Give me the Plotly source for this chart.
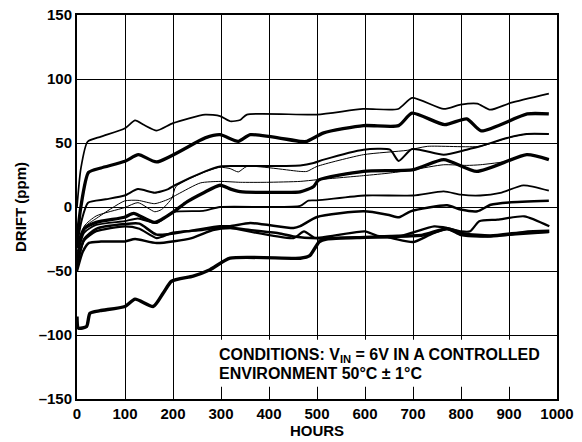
import plotly.graph_objects as go

# ---- data (hours, drift ppm) ----
A_HOURS = [0, 8, 22, 50, 100, 121, 140, 166, 200, 267, 298, 319, 340, 354, 500, 596, 669, 698, 764, 799, 834, 861, 903, 983]
A_DRIFT = [0, 30, 51, 55, 61.5, 67.7, 64, 59.7, 65.5, 72.2, 71, 67, 68, 72.2, 72.2, 76.6, 76.6, 85.2, 76.6, 80, 80.8, 76, 81.3, 88.6]

B_HOURS = [0, 8, 24, 50, 100, 128, 166, 267, 298, 336, 361, 465, 479, 514, 597, 670, 698, 766, 812, 842, 938, 983]
B_DRIFT = [-25, 0, 27, 30.5, 35.7, 40.9, 35.2, 54, 56.5, 51.3, 56.5, 51.3, 51.3, 57.9, 63.6, 63.6, 73.3, 64.3, 68.9, 59.5, 72.7, 72.7]

C_HOURS = [0, 10, 23, 60, 99, 127, 162, 190, 204, 267, 298, 340, 465, 493, 514, 597, 652, 670, 698, 764, 812, 840, 896, 937, 983]
C_DRIFT = [-30, -10, 3.4, 6, 9, 14, 11.2, 14, 17, 27.8, 31.7, 32, 32.5, 34.4, 37, 44.8, 44.8, 36, 45.3, 40.9, 44.8, 47.4, 53.9, 57, 57]

C2_HOURS = [0, 15, 40, 99, 127, 162, 176, 198, 206, 267, 298, 319, 336, 354, 465, 479, 500, 597, 688, 730, 840, 896, 937, 983]
C2_DRIFT = [-36, -15, -7, -0.5, 3.4, -3.7, -2, 7, 16, 27.5, 31, 30, 27.4, 31.7, 27.8, 27.8, 31.7, 40.9, 44.3, 47.4, 47.4, 53.9, 57, 57]

T_HOURS = [0, 15, 40, 99, 127, 162, 190, 210, 257, 298, 340, 395, 465, 500, 597, 653, 701, 764, 812, 840, 900, 937, 983]
T_DRIFT = [-38, -16, -9, 4.7, 5.2, 2.6, 6, 10, 18.8, 20, 19.3, 19.3, 20, 21.3, 24.5, 26.6, 29.2, 33, 32.5, 33, 36, 40.9, 37]

D_HOURS = [0, 15, 40, 99, 118, 162, 204, 229, 263, 298, 320, 340, 423, 465, 493, 503, 597, 701, 764, 833, 937, 983]
D_DRIFT = [-32, -17, -12, -8, -5, -12, -3, 4, 11, 17, 14, 12, 11.4, 11.8, 16, 21, 27.8, 29.2, 37, 27.8, 40.9, 37]

E_HOURS = [0, 15, 40, 99, 127, 166, 200, 263, 298, 465, 482, 500, 600, 700, 764, 800, 840, 882, 930, 983]
E_DRIFT = [-40, -20, -14, -11, -9, -12.5, -4, -3, 0, 0.8, 5, 5.2, 9, 9, 12.2, 9.6, 9, 11, 16.9, 12.7]

F_HOURS = [0, 15, 40, 100, 130, 166, 229, 298, 319, 361, 451, 465, 500, 597, 647, 671, 695, 771, 799, 834, 862, 900, 983]
F_DRIFT = [-46, -25, -17, -13.3, -13, -21.6, -19, -15, -15, -12.5, -16.4, -15, -7.8, -3.4, -6, -8, -3.4, 1.3, -2, -3.4, 1.8, 3.6, 4.9]

G_HOURS = [0, 15, 40, 100, 130, 166, 200, 260, 300, 319, 451, 473, 495, 600, 626, 675, 744, 771, 800, 819, 838, 876, 932, 984]
G_DRIFT = [-44, -26, -19, -15.1, -17, -24.3, -20, -18, -16, -16.4, -24.3, -19, -24, -19, -22.5, -22.5, -15.2, -16.4, -19, -19, -11.2, -9.9, -7.3, -15.1]

H_HOURS = [0, 12, 25, 50, 100, 121, 166, 239, 283, 320, 360, 420, 451, 500, 560, 600, 647, 700, 736, 771, 800, 840, 900, 983]
H_DRIFT = [-50, -35, -28, -27, -26.9, -25, -28.2, -24.3, -18, -16.5, -18, -20.5, -23, -24.5, -24, -23.7, -23.7, -27.4, -21.5, -17, -22, -23, -21.6, -19.6]

I_HOURS = [0, 3, 20, 27, 48, 100, 121, 159, 180, 197, 242, 277, 319, 465, 485, 505, 520, 600, 654, 720, 771, 806, 862, 932, 984]
I_DRIFT = [-85.5, -94.6, -93.4, -83, -81, -77.7, -72, -77.7, -67, -58, -54, -49, -40, -40, -38, -27, -25, -23.7, -23, -22, -17, -21, -22.6, -19.8, -19]

SERIES = [
    (A_HOURS, A_DRIFT, 1.7),
    (B_HOURS, B_DRIFT, 3.3),
    (C_HOURS, C_DRIFT, 2.0),
    (C2_HOURS, C2_DRIFT, 1.0),
    (T_HOURS, T_DRIFT, 1.0),
    (D_HOURS, D_DRIFT, 3.3),
    (E_HOURS, E_DRIFT, 1.8),
    (F_HOURS, F_DRIFT, 2.5),
    (G_HOURS, G_DRIFT, 2.2),
    (H_HOURS, H_DRIFT, 2.5),
    (I_HOURS, I_DRIFT, 3.4),
]

Y_TICKS = [-150, -100, -50, 0, 50, 100, 150]
Y_LABELS = ["\u2013150", "\u2013100", "\u201350", "0", "50", "100", "150"]
X_TICKS = [0, 100, 200, 300, 400, 500, 600, 700, 800, 900, 1000]
NOTE_LINES = ["CONDITIONS: V<sub>IN</sub> = 6V IN A CONTROLLED",
              "ENVIRONMENT 50\u00b0C \u00b1 1\u00b0C"]

FAMILY = "Liberation Sans, Arial, sans-serif"
FONT = dict(family=FAMILY, size=15, color="black", weight="bold")
NOTE_FONT = dict(family=FAMILY, size=16, color="black", weight="bold")

fig = go.Figure()
for hx, dy, w in SERIES:
    fig.add_trace(go.Scatter(x=hx, y=dy, mode="lines",
                             line=dict(color="black", width=w, shape="spline", smoothing=0.6),
                             showlegend=False, hoverinfo="skip"))

# white box behind the conditions note
fig.add_shape(type="rect", xref="x", yref="y", x0=281, x1=982, y0=-140.5, y1=-103.8,
              fillcolor="white", line=dict(width=0), layer="between")

for txt, yv in zip(NOTE_LINES, [-116.3, -130.4]):
    fig.add_annotation(x=292, y=yv, xref="x", yref="y", xanchor="left", yanchor="middle",
                       align="left", showarrow=False, text=txt, font=NOTE_FONT)

fig.update_xaxes(range=[0, 1000], tickvals=X_TICKS, showgrid=True, gridcolor="black", gridwidth=1,
                 showline=True, linecolor="black", linewidth=2, mirror=True, zeroline=False,
                 ticks="", tickfont=FONT, automargin=False,
                 title=dict(text="HOURS", font=FONT, standoff=4))
fig.update_yaxes(range=[-150, 150], tickvals=Y_TICKS, ticktext=Y_LABELS, showgrid=True,
                 gridcolor="black", gridwidth=1, showline=True, linecolor="black", linewidth=2,
                 mirror=True, zeroline=False, ticks="", tickfont=FONT, automargin=False,
                 title=dict(text="DRIFT (ppm)", font=FONT, standoff=8))

fig.update_layout(width=582, height=442, autosize=False,
                  margin=dict(l=77, r=25, t=15, b=43),
                  paper_bgcolor="white", plot_bgcolor="white")

fig.write_html("out.html", config={"displayModeBar": False, "staticPlot": True},
               post_script="document.body.style.margin='0';document.body.style.overflow='hidden';")
